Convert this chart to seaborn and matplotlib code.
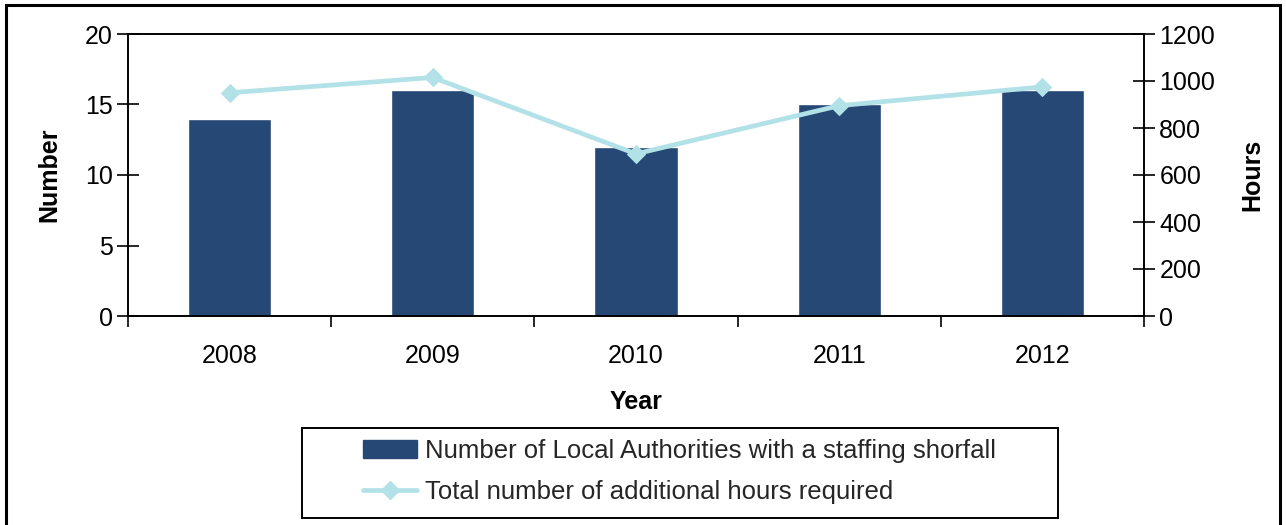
import numpy as np
import pandas as pd
import matplotlib
matplotlib.use("Agg")
import matplotlib.pyplot as plt
from matplotlib.patches import Rectangle
from matplotlib.lines import Line2D
import seaborn as sns

years = ["2008", "2009", "2010", "2011", "2012"]
authorities = [14, 16, 12, 15, 16]
hours = [950, 1015, 690, 895, 975]

bar_label = "Number of Local Authorities with a staffing shorfall"
line_label = "Total number of additional hours required"

sns.set_theme(style="white")
plt.rcParams["font.family"] = ["Liberation Sans", "DejaVu Sans"]

bar_color = "#264875"
line_color = "#b2e2e8"
fs = 18

W, H = 1286, 525
fig = plt.figure(figsize=(W / 100, H / 100), dpi=100)
ax = fig.add_axes([128 / W, 1 - 316 / H, 1016 / W, 282 / H])

df = pd.DataFrame({"Year": years, "Number": authorities, "Hours": hours})
sns.barplot(data=df, x="Year", y="Number", color=bar_color, width=0.41,
            saturation=1, ax=ax)

ax2 = ax.twinx()
sns.lineplot(x=np.arange(len(years)), y=df["Hours"], ax=ax2, color=line_color,
             linewidth=3.4, marker="D", markersize=9, markeredgecolor=line_color)

ax.set_xlim(-0.5, len(years) - 0.5)
ax.set_ylim(0, 20)
ax.set_yticks([0, 5, 10, 15, 20])
ax2.set_ylim(0, 1200)
ax2.set_yticks(range(0, 1201, 200))

# x ticks on category boundaries, labels centred on the bars
ax.set_xticks(np.arange(-0.5, len(years)), minor=False)
ax.set_xticklabels([])
ax.set_xticks(np.arange(len(years)), minor=True)
ax.set_xticklabels(years, minor=True)
ax.tick_params(axis="x", which="major", direction="out", length=8, width=1.2,
               colors="black", bottom=True)
ax.tick_params(axis="x", which="minor", length=0, labelsize=fs, pad=20,
               labelcolor="black")
ax.tick_params(axis="y", direction="inout", length=16, width=1.2,
               left=True, labelsize=fs, colors="black", pad=3)
ax2.tick_params(axis="y", direction="inout", length=16, width=1.2,
                right=True, labelsize=fs, colors="black", pad=3)

for a in (ax, ax2):
    for s in a.spines.values():
        s.set_visible(True)
        s.set_color("black")
        s.set_linewidth(1.2)

ax.set_xlabel("Year", fontsize=fs, fontweight="bold", labelpad=16, color="black")
ax.set_ylabel("Number", fontsize=fs, fontweight="bold", labelpad=17, color="black")
ax2.set_ylabel("Hours", fontsize=fs, fontweight="bold", labelpad=18, color="black")
ax.grid(False)
ax2.grid(False)

handles = [
    Rectangle((0, 0), 1, 1, facecolor=bar_color, edgecolor=bar_color),
    Line2D([0], [0], color=line_color, linewidth=3.4, marker="D",
           markersize=9, markeredgecolor=line_color),
]
fig.legend(handles, [bar_label, line_label],
           loc="upper left", bbox_to_anchor=(363 / W, 1 - 439 / H),
           fontsize=18.5, frameon=False,
           handlelength=2.1, handletextpad=0.3, borderpad=0,
           labelspacing=0.68, borderaxespad=0)

# legend frame
fig.patches.append(Rectangle((302 / W, 1 - 518 / H), 756 / W, 90 / H,
                             transform=fig.transFigure, fill=False,
                             edgecolor="black", linewidth=1.4))

# outer chart border
fig.patches.append(Rectangle((6 / W, -0.01), 1274 / W, 1 - 5 / H + 0.01,
                             transform=fig.transFigure, fill=False,
                             edgecolor="black", linewidth=2.2))

fig.savefig("out.png", dpi=100, facecolor="white")
